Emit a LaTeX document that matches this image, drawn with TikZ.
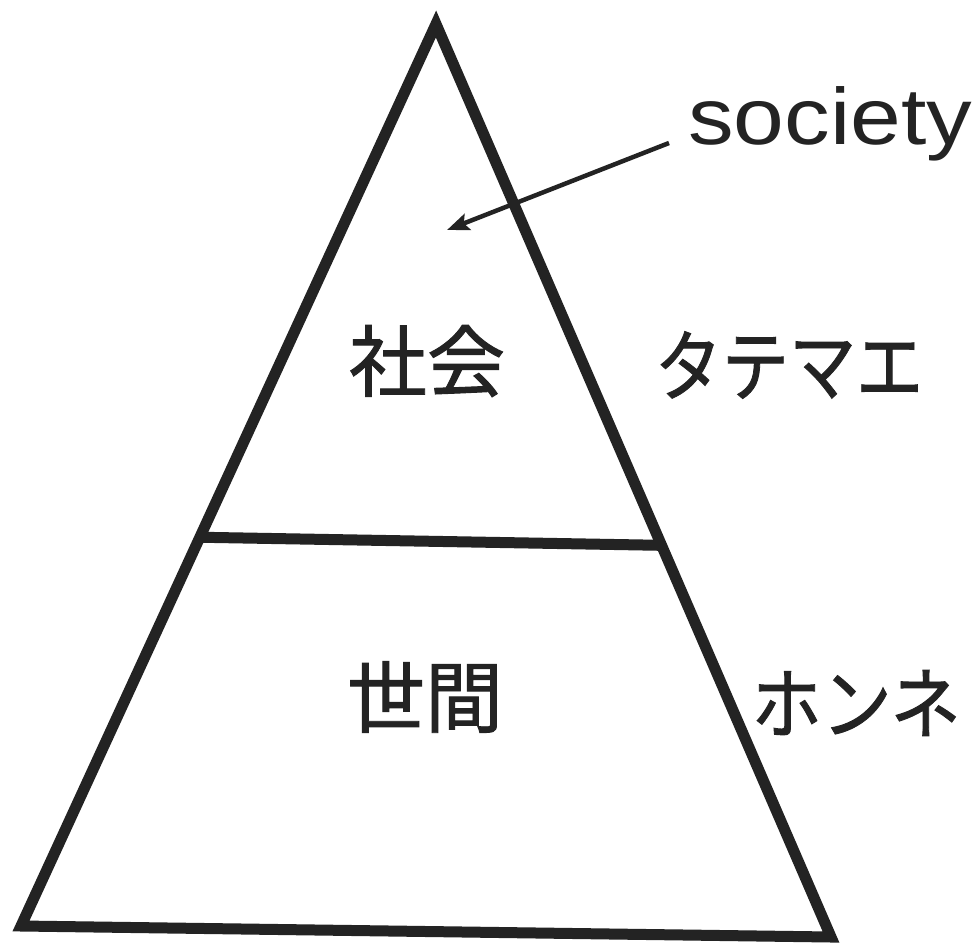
\documentclass[tikz,border=0pt]{standalone}
\usepackage{fontspec}
\setmainfont{Liberation Sans}
\newfontfamily\jp[FakeBold=1.2]{Noto Sans CJK JP}
\usetikzlibrary{arrows.meta,calc}
\definecolor{ink}{RGB}{35,35,35}
\begin{document}
\begin{tikzpicture}[x=1pt,y=-1pt,
  tri/.style={draw=ink,line width=11pt,line join=miter},
  divline/.style={draw=ink,line width=11pt},
  pointer/.style={draw=ink,line width=4.5pt,-{Stealth[length=22pt,width=17pt,inset=4pt]}},
  jptext/.style={inner sep=0pt,text=ink,font=\jp\fontsize{78}{78}\selectfont},
  entext/.style={inner sep=0pt,text=ink,font=\fontsize{80}{80}\selectfont}]
\useasboundingbox (0,0) rectangle (980,945);
\fill[white] (0,0) rectangle (980,945);
\coordinate (apex) at (436,24);
\coordinate (bl) at (21,926);
\coordinate (br) at (831,937);
\draw[tri] (apex) -- (bl) -- (br) -- cycle;
\coordinate (ml) at ($(apex)!0.569!(bl)$);
\coordinate (mr) at ($(apex)!0.571!(br)$);
\draw[divline] (ml) -- (mr);
\node[entext,anchor=base west] (soc) at (688,144) {\scalebox{1.14}[1]{society}};
\coordinate (arrS) at (669,143);
\coordinate (arrT) at (447,230);
\draw[pointer] (arrS) -- (arrT);
\node[jptext] (shakai) at (427,361) {社会};
\node[jptext] (tatemae) at (789,365) {\scalebox{0.86}[1]{タテマエ}};
\node[jptext] (seken) at (425,697) {世間};
\node[jptext] (honne) at (856,703) {\scalebox{0.9}[1]{ホンネ}};
\end{tikzpicture}
\end{document}
